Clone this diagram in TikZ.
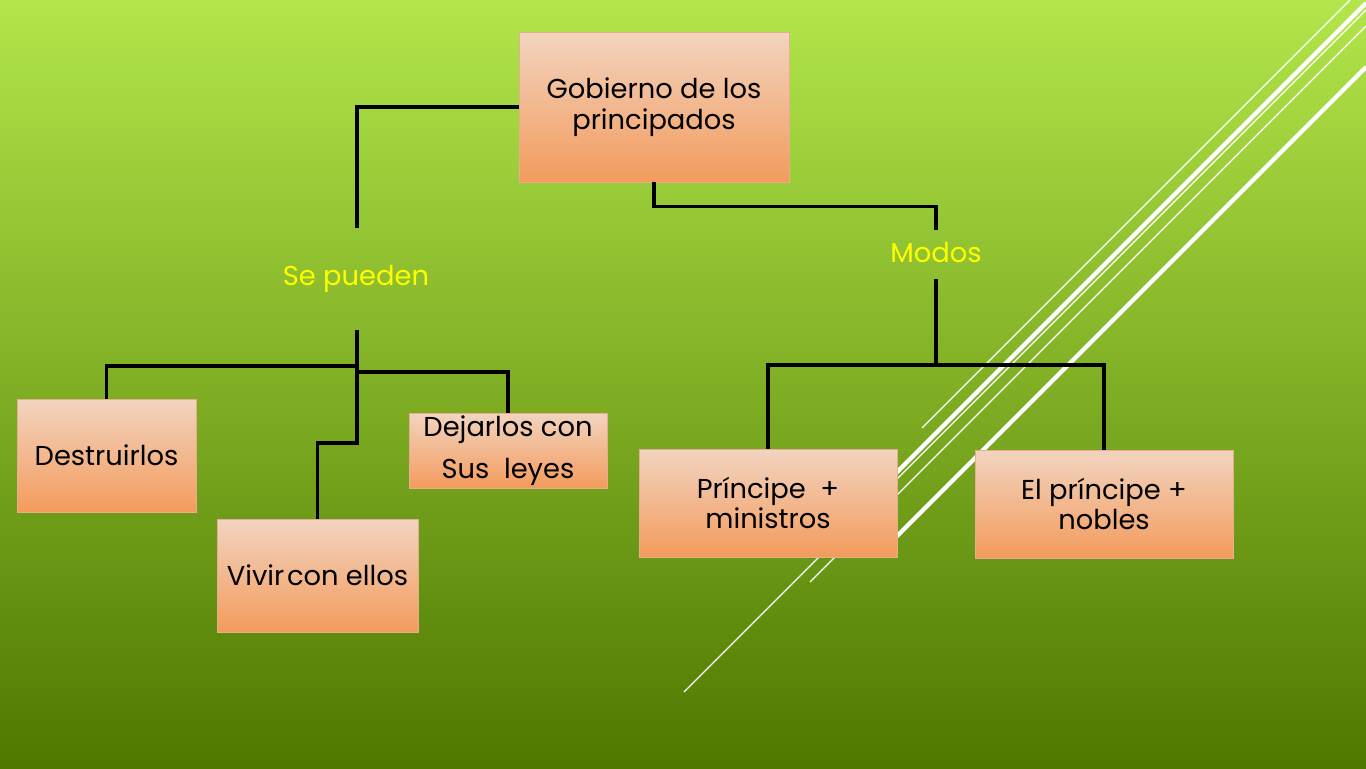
\documentclass[tikz,border=0pt]{standalone}
\usepackage{fontspec}
\setmainfont{Poppins}
\definecolor{bgtop}{RGB}{178,230,74}
\definecolor{bgmid}{RGB}{132,184,40}
\definecolor{bgbot}{RGB}{78,120,0}
\definecolor{boxtop}{RGB}{242,212,192}
\definecolor{boxbot}{RGB}{243,155,92}
\definecolor{boxline}{RGB}{232,172,142}
\definecolor{labelyellow}{RGB}{255,255,0}
\begin{document}
\begin{tikzpicture}[x=0.75pt,y=-0.75pt,
  box/.style={draw=boxline, line width=0.6pt, top color=boxtop, bottom color=boxbot,
    inner sep=0pt, align=center, font=\fontsize{20.5}{23.5}\selectfont},
  lbl/.style={text=labelyellow, inner sep=0pt, font=\fontsize{20.5}{24}\selectfont},
  conn/.style={draw=black, line width=2.6pt},
  thinstripe/.style={draw=white, line width=0.9pt},
  thickstripe/.style={draw=white, line width=3.2pt}]
\useasboundingbox (0,0) rectangle (1366,768);
\clip (0,0) rectangle (1366,768);
% background
\shade[top color=bgtop, middle color=bgmid, bottom color=bgbot] (0,0) rectangle (1366,768);
% decorative diagonal stripes
\draw[thinstripe] (922,428) -- (1350,0);
\draw[thickstripe] (860,509) -- (1366,3);
\draw[thinstripe] (684,692) -- (1366,10);
\draw[thinstripe] (810,582) -- (1366,26);
\draw[thickstripe] (880,553) -- (1366,67);
% boxes
\node[box, minimum width=202.5pt, minimum height=112.5pt] (gob) at (654,107) {Gobierno de los\\principados};
\node[box, minimum width=134.25pt, minimum height=84.75pt] (des) at (106.5,455.5) {Destruirlos};
\node[box, minimum width=150.75pt, minimum height=84.75pt] (viv) at (317.5,575.5) {Vivir\hspace{0.1em}con ellos};
\node[box, minimum width=148.5pt, minimum height=56.25pt, font=\fontsize{20.5}{31.5}\selectfont] (dej) at (508,450.5) {Dejarlos con\\Sus\ \ leyes};
\node[box, minimum width=193.5pt, minimum height=81pt, font=\fontsize{20.5}{22.5}\selectfont] (pri) at (768,503) {Príncipe\ \ +\\ministros};
\node[box, minimum width=193.5pt, minimum height=81pt, font=\fontsize{20.5}{22.5}\selectfont] (nob) at (1104,504) {El príncipe +\\nobles};
% labels
\node[lbl] (sep) at (356,279) {Se pueden};
\node[lbl] (mod) at (936,253) {Modos};
% free ends of connectors
\coordinate (c1) at (357,228);
\coordinate (c2) at (936,230);
\coordinate (m1) at (936,279);
\coordinate (m2) at (936,365);
\coordinate (s1) at (357,330);
\coordinate (s2) at (357,366);
\coordinate (s3) at (357,372);
\coordinate (s4) at (357,443);
% connectors
\draw[conn] (gob.west) -| (c1);
\draw[conn] (gob.south) -- ++(0,24) -| (c2);
\draw[conn] (m1) -- (m2);
\draw[conn] (m2) -| (pri.north);
\draw[conn] (m2) -| (nob.north);
\draw[conn] (s1) -- (s4) -| (viv.north);
\draw[conn] (s2) -| (des.north);
\draw[conn] (s3) -| (dej.north);
\end{tikzpicture}
\end{document}
